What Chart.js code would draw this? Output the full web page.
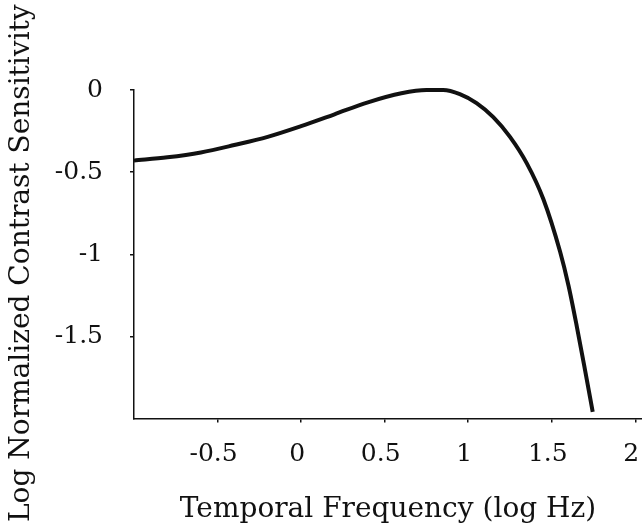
<!DOCTYPE html>
<html>
<head>
<meta charset="utf-8">
<script src="https://cdn.jsdelivr.net/npm/chart.js@4/dist/chart.umd.min.js"></script>
<style>
  html, body { margin: 0; padding: 0; background: #fff; }
  #wrap { width: 642px; height: 531px; }
</style>
</head>
<body>
<div id="wrap"><canvas id="csfChart" width="642" height="531"></canvas></div>
<script>
// valeurs
const freqLog = [-1.0, -0.8, -0.6, -0.4, -0.2, 0.0, 0.2, 0.4, 0.6, 0.75, 0.85, 0.95, 1.05, 1.15, 1.25, 1.35, 1.45, 1.55, 1.60, 1.65, 1.70, 1.745];
const sensitivity = [-0.43, -0.41, -0.38, -0.335, -0.285, -0.22, -0.148, -0.075, -0.02, 0.0, 0.0, -0.025, -0.08, -0.165, -0.285, -0.445, -0.665, -0.985, -1.19, -1.44, -1.71, -1.96];
const xTicks = [-0.5, 0, 0.5, 1, 1.5, 2];
const yTicks = [0, -0.5, -1, -1.5];

const serif = "'DejaVu Serif', 'Liberation Serif', serif";

const ctx = document.getElementById('csfChart').getContext('2d');
new Chart(ctx, {
    type: 'scatter',
    data: {
        datasets: [{
            data: freqLog.map((f, i) => ({ x: f, y: sensitivity[i] })),
            showLine: true,
            borderColor: '#111',
            borderWidth: 4,
            pointRadius: 0,
            cubicInterpolationMode: 'monotone',
            clip: false
        }]
    },
    options: {
        responsive: false,
        animation: false,
        layout: { padding: { top: 90, left: 0, right: 0, bottom: 0 } },
        plugins: { legend: { display: false }, tooltip: { enabled: false } },
        scales: {
            x: {
                type: 'linear',
                min: -1,
                max: 2.04,
                afterBuildTicks: scale => { scale.ticks = xTicks.map(v => ({ value: v })); },
                afterFit: scale => {
                    scale.height = 112.5;
                    scale.paddingLeft = 0;
                    scale.paddingRight = 0;
                },
                grid: { drawOnChartArea: false, drawTicks: true, tickLength: 4, color: '#111', lineWidth: 1.5 },
                border: { color: '#111', width: 1.5 },
                ticks: {
                    color: '#111',
                    padding: 17,
                    labelOffset: -4,
                    maxRotation: 0,
                    font: { family: serif, size: 25 },
                    callback: v => String(v)
                },
                title: {
                    display: true,
                    text: 'Temporal Frequency (log Hz)',
                    color: '#111',
                    font: { family: serif, size: 28 },
                    padding: { top: 0, bottom: 4 }
                }
            },
            y: {
                type: 'linear',
                min: -2,
                max: 0,
                afterBuildTicks: scale => { scale.ticks = yTicks.map(v => ({ value: v })); },
                afterFit: scale => {
                    scale.width = 134;
                    scale.paddingTop = 0;
                    scale.paddingBottom = 0;
                },
                grid: { drawOnChartArea: false, drawTicks: true, tickLength: 4, color: '#111', lineWidth: 1.5 },
                border: { color: '#111', width: 1.5 },
                ticks: {
                    color: '#111',
                    padding: 27,
                    font: { family: serif, size: 25 },
                    callback: v => String(v)
                },
                title: {
                    display: true,
                    // deux espaces à la fin pour décaler le titre vers le bas
                    text: 'Log Normalized Contrast Sensitivity  ',
                    color: '#111',
                    font: { family: serif, size: 28 },
                    padding: { top: 5, bottom: 0 }
                }
            }
        }
    }
});
</script>
</body>
</html>
